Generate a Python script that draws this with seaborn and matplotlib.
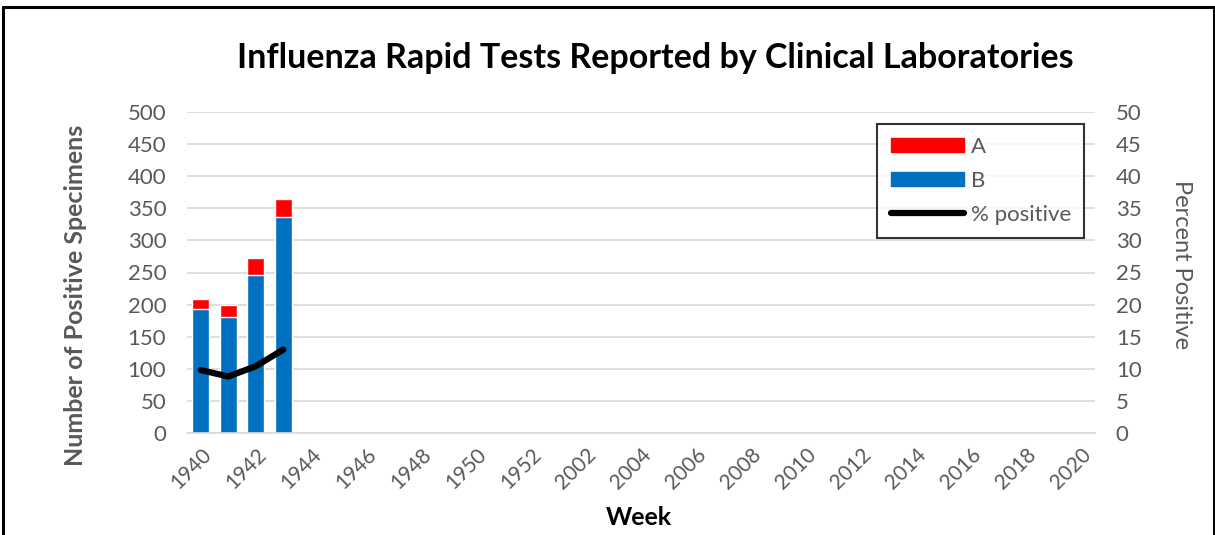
import numpy as np
import pandas as pd
import seaborn as sns
import matplotlib.pyplot as plt
from matplotlib.patches import Patch
from matplotlib.lines import Line2D

# season weeks: 1940-1952, then 2001-2020
weeks = [str(w) for w in range(1940, 1953)] + [str(w) for w in range(2001, 2021)]
data_weeks = ["1940", "1941", "1942", "1943"]
flu_a = [15, 20, 26, 27]
flu_b = [193, 180, 246, 337]
pct_positive = [9.8, 8.8, 10.4, 13.0]

GRAY = "#595959"
RED = "#ff0000"
BLUE = "#0070c0"

df = pd.DataFrame({"week": data_weeks, "A": flu_a, "B": flu_b, "pct": pct_positive})
df["total"] = df["A"] + df["B"]
df["pos"] = [weeks.index(w) for w in df["week"]]

sns.set_theme(style="white")
plt.rcParams["font.family"] = ["Lato", "DejaVu Sans"]

fig = plt.figure(figsize=(12.15, 5.35), dpi=100)
ax = fig.add_axes([187 / 1215, 1 - 433 / 535, 908 / 1215, 321 / 535])

sns.barplot(data=df, x="week", y="total", order=weeks, color=RED, width=0.62,
            saturation=1, ax=ax)
sns.barplot(data=df, x="week", y="B", order=weeks, color=BLUE, width=0.62,
            saturation=1, ax=ax)
ax.set_xlim(-0.5, len(weeks) - 0.5)
ax.set_ylim(0, 500)
ax.set_yticks(np.arange(0, 501, 50))
ax.yaxis.grid(True, color="#d9d9d9", linewidth=1.2)
ax.set_axisbelow(True)
for s in ["top", "right", "left"]:
    ax.spines[s].set_visible(False)
ax.spines["bottom"].set_color("#d9d9d9")
ax.spines["bottom"].set_linewidth(1.2)
ax.set_xticks(range(0, len(weeks), 2))
ax.set_xticklabels(weeks[::2], rotation=45, ha="right", rotation_mode="anchor")
ax.tick_params(axis="x", colors=GRAY, labelsize=15, length=0, pad=8)
ax.tick_params(axis="y", colors=GRAY, labelsize=16, length=0, pad=15)
ax.set_xlabel("Week", fontsize=18, fontweight="bold", color="black", va="center")
ax.set_ylabel("Number of Positive Specimens", fontsize=18, fontweight="bold",
              color=GRAY, va="center")
ax.xaxis.set_label_coords(0.498, -0.262)
ax.yaxis.set_label_coords(-0.123, 0.43)

ax2 = ax.twinx()
sns.lineplot(data=df, x="pos", y="pct", color="black", linewidth=4.5,
             solid_capstyle="round", ax=ax2)
ax2.set_ylim(0, 50)
ax2.set_yticks(np.arange(0, 51, 5))
for s in ["top", "right", "left", "bottom"]:
    ax2.spines[s].set_visible(False)
ax2.tick_params(axis="y", colors=GRAY, labelsize=16, length=0, pad=15)
ax2.set_ylabel("Percent Positive", fontsize=17, color=GRAY, rotation=-90,
               va="center")
ax2.yaxis.set_label_coords(1.095, 0.526)
ax2.set_xlim(-0.5, len(weeks) - 0.5)

handles = [Patch(color=RED), Patch(color=BLUE),
           Line2D([], [], color="black", linewidth=4.5, solid_capstyle="round")]
leg = ax2.legend(handles, ["A", "B", "% positive"], loc="upper right",
                 bbox_to_anchor=(0.988, 0.963), fontsize=16, frameon=True,
                 fancybox=False, edgecolor="black", labelspacing=0.62,
                 handlelength=3.3, handleheight=0.6, handletextpad=0.3,
                 borderpad=0.6, borderaxespad=0)
leg.get_frame().set_linewidth(1.5)
for t in leg.get_texts():
    t.set_color(GRAY)

fig.text(655 / 1215, 1 - 58 / 535, "Influenza Rapid Tests Reported by Clinical Laboratories",
         ha="center", va="center", fontsize=24.5, fontweight="bold", color="black")

# outer chart border
fig.add_artist(Line2D([3 / 1215, 3 / 1215], [0, 1 - 7 / 535], color="black",
                      linewidth=2.2, transform=fig.transFigure))
fig.add_artist(Line2D([3 / 1215, 1], [1 - 7 / 535, 1 - 7 / 535], color="black",
                      linewidth=2.2, transform=fig.transFigure))
fig.add_artist(Line2D([1213.5 / 1215, 1213.5 / 1215], [0, 1 - 7 / 535], color="black",
                      linewidth=1.5, transform=fig.transFigure))

fig.savefig("out.png", dpi=100, facecolor="white")
